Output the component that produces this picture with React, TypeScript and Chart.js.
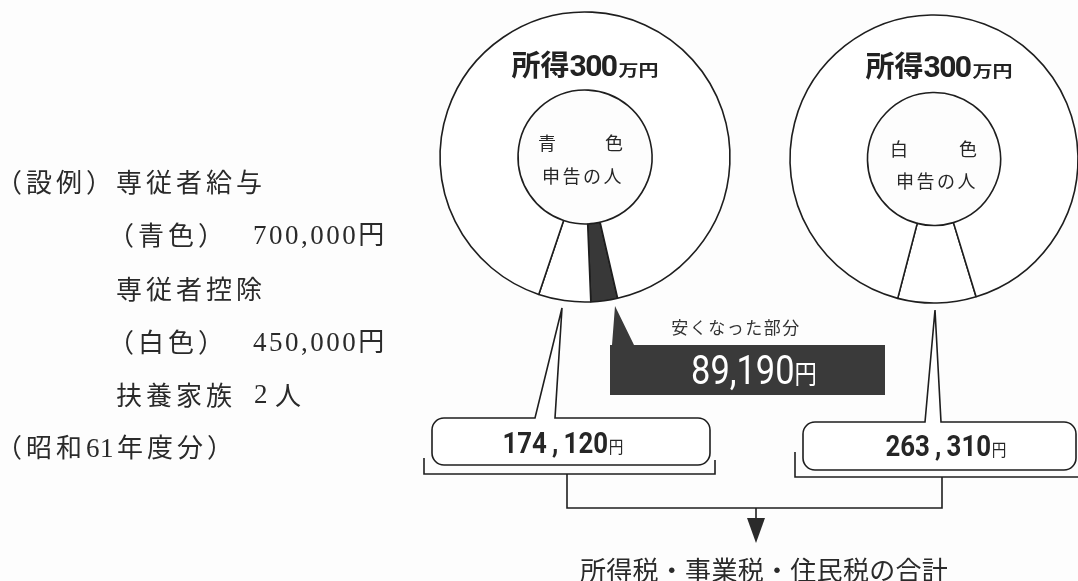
import React, { useEffect, useRef } from 'react';
import { Chart, registerables } from 'chart.js';

Chart.register(...registerables);

// ---- data ----
const incomeTotal = 3000000; // 所得300万円
const blueLabels = ['安くなった部分', '青色申告の税額', 'その他'];
const blueValues = [89190, 174120, incomeTotal - 89190 - 174120];
const whiteLabels = ['白色申告の税額', 'その他'];
const whiteValues = [263310, incomeTotal - 263310];
const blueTax = 174120;
const whiteTax = 263310;
const savedTax = 89190;

const INK = '#1e1e1e';
const CJK = '"Noto Sans CJK JP", "Noto Sans", sans-serif';
const SERIF = '"Liberation Serif", "Noto Sans CJK JP", serif';
const NUM = 'Roboto, "Noto Sans CJK JP", sans-serif';

function fmt(n: number) {
  return n.toLocaleString('en-US');
}

type DonutProps = {
  labels: string[];
  values: number[];
  colors: string[];
  rotation: number;
  radius: number;
  left: number;
  top: number;
};

function Donut({ labels, values, colors, rotation, radius, left, top }: DonutProps) {
  const ref = useRef<HTMLCanvasElement>(null);
  useEffect(() => {
    const chart = new Chart(ref.current as HTMLCanvasElement, {
      type: 'doughnut',
      data: {
        labels,
        datasets: [
          {
            data: values,
            backgroundColor: colors,
            borderColor: INK,
            borderWidth: 1.6,
            borderAlign: 'center',
          } as any,
        ],
      },
      options: {
        responsive: false,
        animation: false,
        rotation,
        radius,
        cutout: '46.2%',
        events: [],
        layout: { padding: 0 },
        plugins: { legend: { display: false }, tooltip: { enabled: false } },
      } as any,
    });
    return () => chart.destroy();
  }, []);
  return (
    <canvas
      ref={ref}
      width={300}
      height={300}
      style={{ position: 'absolute', left, top, width: 300, height: 300 }}
    />
  );
}

function T({ x, y, children, style, center = true }: any) {
  return (
    <div
      style={{
        position: 'absolute',
        left: x,
        top: y,
        transform: center ? 'translate(-50%, -50%)' : 'translateY(-50%)',
        whiteSpace: 'nowrap',
        lineHeight: 1,
        color: '#262626',
        ...style,
      }}
    >
      {children}
    </div>
  );
}

function calloutPath(
  x0: number, y0: number, x1: number, y1: number, r: number,
  b0: number, b1: number, tx: number, ty: number
) {
  return [
    `M ${x0 + r} ${y0}`,
    `L ${b0} ${y0}`,
    `L ${tx} ${ty}`,
    `L ${b1} ${y0}`,
    `L ${x1 - r} ${y0}`,
    `A ${r} ${r} 0 0 1 ${x1} ${y0 + r}`,
    `L ${x1} ${y1 - r}`,
    `A ${r} ${r} 0 0 1 ${x1 - r} ${y1}`,
    `L ${x0 + r} ${y1}`,
    `A ${r} ${r} 0 0 1 ${x0} ${y1 - r}`,
    `L ${x0} ${y0 + r}`,
    `A ${r} ${r} 0 0 1 ${x0 + r} ${y0}`,
    'Z',
  ].join(' ');
}

function Title({ x, y }: { x: number; y: number }) {
  return (
    <T x={x} y={y} style={{ fontWeight: 700, color: '#222' }}>
      <span style={{ fontFamily: CJK, fontSize: 29 }}>所得</span>
      <span style={{ fontFamily: NUM, fontSize: 30, letterSpacing: -1.5 }}>300</span>
      <span
        style={{
          fontFamily: CJK,
          fontSize: 20,
          display: 'inline-block',
          transform: 'scaleY(0.8)',
          transformOrigin: 'bottom',
          marginLeft: 2,
        }}
      >
        万円
      </span>
    </T>
  );
}

function BoxNumber({ x, y, value, color = '#262626' }: any) {
  const parts = fmt(value).split(',');
  return (
    <T
      x={x}
      y={y}
      style={{ transform: 'translate(-50%, -50%) scaleX(0.86)', color, fontWeight: 700 }}
    >
      <span style={{ fontFamily: NUM, fontSize: 30 }}>{parts[0]}</span>
      <span style={{ fontFamily: NUM, fontSize: 30, margin: '0 6px' }}>,</span>
      <span style={{ fontFamily: NUM, fontSize: 30 }}>{parts[1]}</span>
      <span style={{ fontFamily: CJK, fontSize: 17, fontWeight: 400, marginLeft: 1 }}>円</span>
    </T>
  );
}

export default function App() {
  const line = { stroke: INK, strokeWidth: 1.6, fill: 'none' };
  const bodyText = { fontFamily: CJK, fontSize: 26, letterSpacing: 4, color: '#2a2a2a' };
  const numText = { fontFamily: SERIF, fontSize: 27, letterSpacing: 2.5 };
  return (
    <div
      style={{
        position: 'fixed',
        left: 0,
        top: 0,
        width: 1078,
        height: 581,
        overflow: 'hidden',
        background: '#fdfdfd',
      }}
    >
      <Donut
        labels={blueLabels}
        values={blueValues}
        colors={['#383838', '#ffffff', '#ffffff']}
        rotation={167}
        radius={145}
        left={435}
        top={7}
      />
      <Donut
        labels={whiteLabels}
        values={whiteValues}
        colors={['#ffffff', '#ffffff']}
        rotation={163}
        radius={144}
        left={784}
        top={9}
      />

      <svg
        width={1078}
        height={581}
        style={{ position: 'absolute', left: 0, top: 0 }}
      >
        {/* dark callout */}
        <path
          d="M 610 345 L 612 345 L 615 306 L 634 345 L 885 345 L 885 395 L 610 395 Z"
          fill="#3a3a3a"
        />
        {/* left box */}
        <path d={calloutPath(432, 418, 710, 465, 12, 535, 555, 562, 308)} {...line} fill="#fff" />
        {/* right box */}
        <path d={calloutPath(803, 422, 1076, 470, 12, 925, 941, 935, 310)} {...line} fill="#fff" />
        {/* brackets */}
        <polyline points="424,458 424,474 715,474 715,460" {...line} />
        <polyline points="795,452 795,477 1080,477" {...line} />
        <polyline points="567,474 567,508 942,508 942,477" {...line} />
        <line x1={756} y1={508} x2={756} y2={520} stroke={INK} strokeWidth={1.6} />
        <polygon points="747,518 765,518 756,543" fill="#2a2a2a" />
      </svg>

      {/* titles */}
      <Title x={585} y={65} />
      <Title x={939} y={66} />

      {/* inner labels */}
      <T x={547} y={142} style={{ fontFamily: CJK, fontSize: 18 }}>青</T>
      <T x={614} y={142} style={{ fontFamily: CJK, fontSize: 18 }}>色</T>
      <T x={583} y={175} style={{ fontFamily: CJK, fontSize: 18, letterSpacing: 2.5 }}>申告の人</T>
      <T x={899} y={148} style={{ fontFamily: CJK, fontSize: 18 }}>白</T>
      <T x={968} y={148} style={{ fontFamily: CJK, fontSize: 18 }}>色</T>
      <T x={937} y={180} style={{ fontFamily: CJK, fontSize: 18, letterSpacing: 2.5 }}>申告の人</T>

      {/* left explanatory text */}
      <T x={-4} y={181} center={false} style={bodyText}>（設例）専従者給与</T>
      <T x={108} y={234} center={false} style={bodyText}>（青色）</T>
      <T x={253} y={234} center={false} style={{ ...bodyText, ...numText }}>
        700,000<span style={{ fontFamily: CJK, fontSize: 26, letterSpacing: 0 }}>円</span>
      </T>
      <T x={116} y={288} center={false} style={bodyText}>専従者控除</T>
      <T x={108} y={341} center={false} style={bodyText}>（白色）</T>
      <T x={253} y={341} center={false} style={{ ...bodyText, ...numText }}>
        450,000<span style={{ fontFamily: CJK, fontSize: 26, letterSpacing: 0 }}>円</span>
      </T>
      <T x={116} y={394} center={false} style={bodyText}>扶養家族</T>
      <T x={254} y={394} center={false} style={{ ...bodyText, ...numText }}>2</T>
      <T x={275} y={394} center={false} style={bodyText}>人</T>
      <T x={-4} y={447} center={false} style={bodyText}>
        （昭和<span style={{ fontFamily: SERIF, fontSize: 27, letterSpacing: 0.5 }}>61</span>
        <span style={{ marginLeft: 3 }}>年度分）</span>
      </T>

      {/* saved amount */}
      <T x={736} y={326} style={{ fontFamily: CJK, fontSize: 17, letterSpacing: 1.5, color: '#333' }}>
        {blueLabels[0]}
      </T>
      <T
        x={754}
        y={371}
        style={{ transform: 'translate(-50%, -50%) scaleX(0.86)', color: '#fff' }}
      >
        <span style={{ fontFamily: NUM, fontSize: 40 }}>{fmt(savedTax)}</span>
        <span style={{ fontFamily: CJK, fontSize: 26 }}>円</span>
      </T>

      {/* box amounts */}
      <BoxNumber x={563} y={443} value={blueTax} />
      <BoxNumber x={946} y={446} value={whiteTax} />

      {/* bottom caption */}
      <T x={764} y={569} style={{ fontFamily: CJK, fontSize: 26, letterSpacing: 0.3, color: '#2a2a2a' }}>
        所得税・事業税・住民税の合計
      </T>
    </div>
  );
}
